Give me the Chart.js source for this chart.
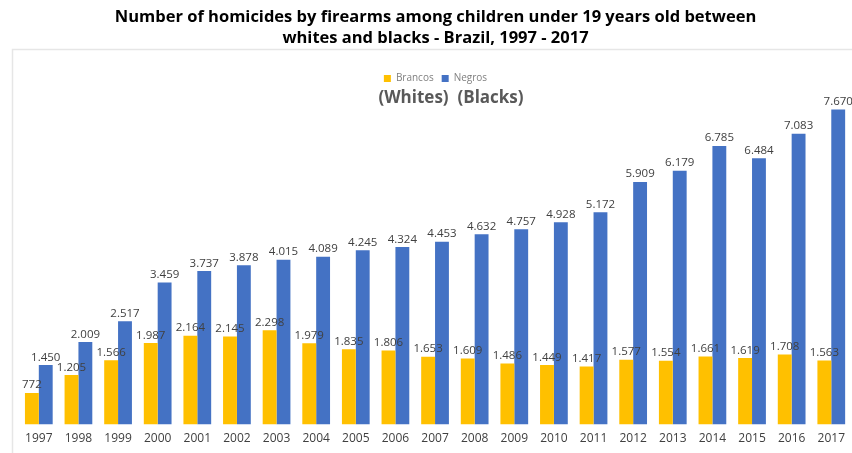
<!DOCTYPE html>
<html>
<head>
<meta charset="utf-8">
<script src="https://cdn.jsdelivr.net/npm/chart.js@4.4.0/dist/chart.umd.min.js"></script>
<style>
  html, body { margin: 0; padding: 0; background: #fff; }
  #wrap { position: relative; width: 852px; height: 453px; }
</style>
</head>
<body>
<div id="wrap"><canvas id="homChart"></canvas></div>
<script>
const years = ['1997','1998','1999','2000','2001','2002','2003','2004','2005','2006','2007',
               '2008','2009','2010','2011','2012','2013','2014','2015','2016','2017'];
const brancos = [772, 1205, 1566, 1987, 2164, 2145, 2298, 1979, 1835, 1806, 1653,
                 1609, 1486, 1449, 1417, 1577, 1554, 1661, 1619, 1708, 1563];
const negros = [1450, 2009, 2517, 3459, 3737, 3878, 4015, 4089, 4245, 4324, 4453,
                4632, 4757, 4928, 5172, 5909, 6179, 6785, 6484, 7083, 7670];
const titleLines = ['Number of homicides by firearms among children under 19 years old between',
                    'whites and blacks - Brazil, 1997 - 2017'];
const subLabel = '(Whites)  (Blacks)';

const FONT = "'Open Sans', 'DejaVu Sans', sans-serif";

// dot as thousands separator, like the source
const fmt = v => String(v).replace(/\B(?=(\d{3})+(?!\d))/g, '.');

// value labels above each bar
const valueLabels = {
    id: 'valueLabels',
    afterDatasetsDraw(chart) {
        const ctx = chart.ctx;
        ctx.save();
        ctx.font = '11.5px ' + FONT;
        ctx.fillStyle = '#404040';
        ctx.textAlign = 'center';
        ctx.textBaseline = 'bottom';
        chart.data.datasets.forEach((ds, i) => {
            chart.getDatasetMeta(i).data.forEach((bar, j) => {
                ctx.fillText(fmt(ds.data[j]), bar.x, bar.y - 2);
            });
        });
        ctx.restore();
    }
};

// faint frame and the translated legend line
const extras = {
    id: 'extras',
    beforeDraw(chart) {
        const ctx = chart.ctx;
        ctx.save();
        ctx.strokeStyle = '#e6e6e6';
        ctx.lineWidth = 1.5;
        ctx.beginPath();
        ctx.moveTo(12.5, 453);
        ctx.lineTo(12.5, 49.5);
        ctx.lineTo(852, 49.5);
        ctx.stroke();
        ctx.restore();
    },
    afterDraw(chart) {
        const ctx = chart.ctx;
        ctx.save();
        ctx.font = 'bold 17px ' + FONT;
        ctx.fillStyle = '#595959';
        ctx.textAlign = 'center';
        ctx.textBaseline = 'middle';
        ctx.fillText(subLabel, 451, 98);
        ctx.restore();
    }
};

const ctx = document.getElementById('homChart').getContext('2d');
new Chart(ctx, {
    type: 'bar',
    data: {
        labels: years,
        datasets: [
            {
                label: 'Brancos',
                data: brancos,
                backgroundColor: '#FFC000',
                categoryPercentage: 0.7,
                barPercentage: 1.0
            },
            {
                label: 'Negros',
                data: negros,
                backgroundColor: '#4472C4',
                categoryPercentage: 0.7,
                barPercentage: 1.0
            }
        ]
    },
    options: {
        responsive: true,
        maintainAspectRatio: false,
        animation: false,
        layout: { padding: { left: 19, right: 0, top: 7, bottom: 0 } },
        plugins: {
            title: {
                display: true,
                text: titleLines,
                color: '#000',
                font: { family: FONT, size: 16.5, weight: 'bold', lineHeight: 1.26 },
                padding: { top: 0, bottom: 17 }
            },
            legend: {
                display: true,
                labels: {
                    color: '#7f7f7f',
                    font: { family: FONT, size: 10 },
                    boxWidth: 7,
                    boxHeight: 7,
                    padding: 8
                }
            },
            tooltip: { enabled: false }
        },
        scales: {
            x: {
                grid: { display: false, drawTicks: false },
                border: { display: false },
                ticks: { color: '#404040', font: { family: FONT, size: 12 }, padding: 7, maxRotation: 0, autoSkip: false }
            },
            y: {
                display: false,
                min: 0,
                max: 8060
            }
        }
    },
    plugins: [valueLabels, extras]
});
</script>
</body>
</html>
